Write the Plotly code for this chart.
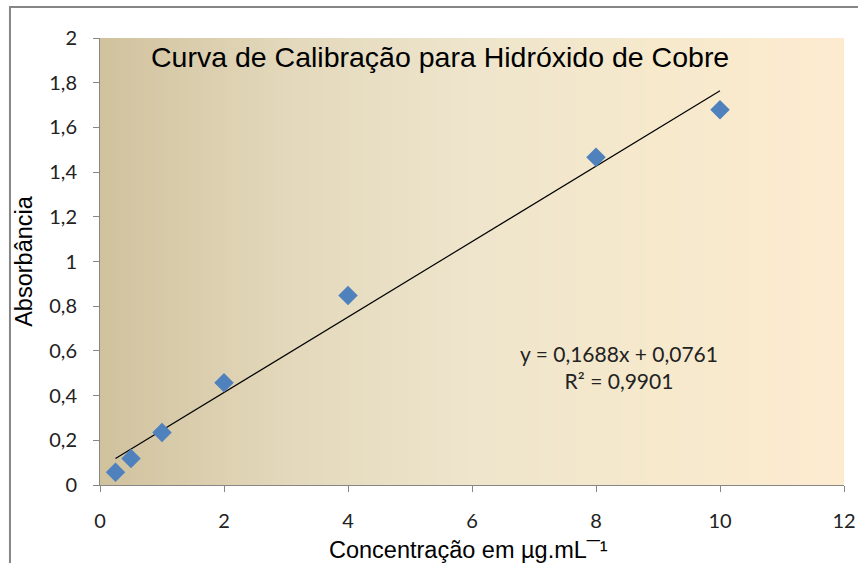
import numpy as np
import plotly.graph_objects as go

# Data
concentracao = [0.25, 0.5, 1, 2, 4, 8, 10]
absorbancia = [0.057, 0.119, 0.235, 0.458, 0.848, 1.467, 1.679]
slope = 0.1688
intercept = 0.0761
r2 = 0.9901
x_ticks = [0, 2, 4, 6, 8, 10, 12]
y_ticks = [0, 0.2, 0.4, 0.6, 0.8, 1.0, 1.2, 1.4, 1.6, 1.8, 2.0]

fig = go.Figure()

# gradient background
nb = 150
bx = np.linspace(0, 12, nb + 1)
bcent = (bx[:-1] + bx[1:]) / 2
fig.add_trace(go.Heatmap(
    x=bx, y=[0, 2], z=[bcent.tolist()],
    colorscale=[[0, "#D1C29E"], [0.25, "#E3D8BB"], [0.5, "#EEE5CC"], [0.75, "#F6E9CC"], [1, "#FDEBD0"]],
    showscale=False, hoverinfo="skip", zmin=0, zmax=12,
))

# trendline
tx = [min(concentracao), max(concentracao)]
ty = [slope * v + intercept for v in tx]
fig.add_trace(go.Scatter(x=tx, y=ty, mode="lines", line=dict(color="black", width=1.2),
                         hoverinfo="skip", showlegend=False))

fig.add_trace(go.Scatter(x=concentracao, y=absorbancia, mode="markers",
                         marker=dict(symbol="diamond", size=15, color="#4F81BD"),
                         showlegend=False))

fig.add_annotation(x=5.48, y=1.915, xref="x", yref="y",
                   text="Curva de Calibração para Hidróxido de Cobre",
                   showarrow=False, font=dict(family="Liberation Sans, Arial", size=28.5, color="black"))

fig.add_annotation(x=8.37, y=0.528, xref="x", yref="y",
                   text=f"y = {str(slope).replace('.', ',')}x + {str(intercept).replace('.', ',')}<br>R² = {str(r2).replace('.', ',')}",
                   showarrow=False, align="center",
                   font=dict(family="Lato, Open Sans", size=21, color="#222222"))

L, R, T, B = 100, 16, 38, 78
W, H = 868, 563
pw, ph = W - L - R, H - T - B

# outer chart border
fig.add_shape(type="rect", xref="paper", yref="paper",
              x0=(9 - L) / pw, y0=-(B + 20) / ph, x1=1 + (R + 20) / pw, y1=1 + (T - 7) / ph,
              line=dict(color="#868686", width=2), fillcolor="rgba(0,0,0,0)", layer="below")

# x-axis title as annotation for precise placement
fig.add_annotation(xref="paper", yref="paper", x=0.4956, y=-(550 - T - ph) / ph,
                   xanchor="center", yanchor="middle", showarrow=False,
                   text="Concentração em µg.mL¯¹",
                   font=dict(family="Liberation Sans, Arial", size=23.5, color="black"))

fig.update_layout(
    width=W, height=H,
    margin=dict(l=L, r=R, t=T, b=B),
    paper_bgcolor="white", plot_bgcolor="white",
    separators=",.",
    showlegend=False,
    xaxis=dict(range=[0, 12], tickvals=x_ticks, showgrid=False, zeroline=False,
               showline=True, linecolor="#868686", linewidth=1,
               ticks="outside", ticklen=6, tickcolor="#868686", ticklabelstandoff=12,
               tickfont=dict(family="Lato, Open Sans", size=20, color="#222222")),
    yaxis=dict(range=[0, 2], tickvals=y_ticks, showgrid=False, zeroline=False,
               showline=True, linecolor="#868686", linewidth=1,
               ticks="outside", ticklen=6, tickcolor="#868686", ticklabelstandoff=12,
               tickfont=dict(family="Lato, Open Sans", size=20, color="#222222"),
               title=dict(text="Absorbância", standoff=10,
                          font=dict(family="Liberation Sans, Arial", size=23.5, color="black"))),
)

fig.write_html("out.html", config={"displayModeBar": False},
               post_script="document.body.style.margin='0';document.body.style.overflow='hidden';"
                           "document.documentElement.style.overflow='hidden';")
